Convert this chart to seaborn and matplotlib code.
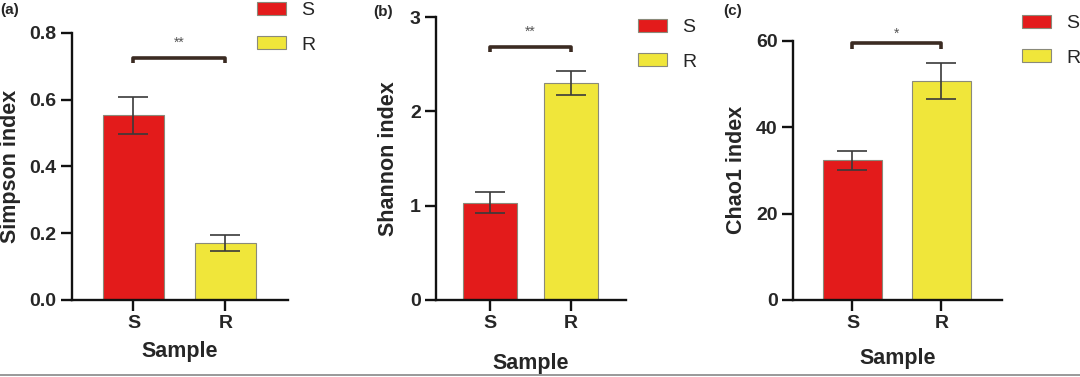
import matplotlib
matplotlib.use("Agg")
import matplotlib.pyplot as plt
import seaborn as sns
import pandas as pd
from matplotlib.lines import Line2D

sns.set_style("ticks")
plt.rcParams['font.family'] = ['Liberation Sans', 'DejaVu Sans']

# ---- data ----
samples = ["S", "R"]
simpson_mean = [0.553, 0.172]
simpson_err = [0.056, 0.024]
shannon_mean = [1.03, 2.30]
shannon_err = [0.11, 0.13]
chao1_mean = [32.3, 50.7]
chao1_err = [2.2, 4.2]
ylabels = ["Simpson index", "Shannon index", "Chao1 index"]
panel_labels = ["(a)", "(b)", "(c)"]
sig_labels = ["**", "**", "*"]
ymaxes = [0.8, 3, 60]
yticks = [[0.0, 0.2, 0.4, 0.6, 0.8], [0, 1, 2, 3], [0, 20, 40, 60]]
ytickfmt = ["{:.1f}", "{:.0f}", "{:.0f}"]
bracket_y = [0.726, 2.686, 59.4]
bracket_drop = [0.015, 0.06, 1.25]
star_y = [0.772, 2.84, 61.6]

palette = {"S": "#E31B1B", "R": "#F0E63A"}

means = [simpson_mean, shannon_mean, chao1_mean]
errs = [simpson_err, shannon_err, chao1_err]

fig = plt.figure(figsize=(10.8, 3.77), dpi=100)

W, H = 1080, 377
rects = [
    (72, 288, 33, 300),
    (436, 626, 17, 300),
    (793, 1002, 40.7, 300),
]
legend_pos = [(253, -2), (634, 15), (1018, 11)]
panel_pos = [(0, 10), (373, 12), (723, 11)]
ylabel_x = [21, 399, 747]
xlabel_pads = [6.5, 15, 11]

for i in range(3):
    l, r, t, b = rects[i]
    ax = fig.add_axes([l / W, 1 - b / H, (r - l) / W, (b - t) / H])
    df = pd.DataFrame({"Sample": samples, "value": means[i]})
    sns.barplot(data=df, x="Sample", y="value", hue="Sample", palette=palette,
                saturation=1, width=0.665, dodge=False, errorbar=None, ax=ax,
                edgecolor="#8a8a7a", linewidth=0.8, legend=True)
    ax.errorbar(x=[0, 1], y=means[i], yerr=errs[i], fmt="none",
                ecolor="#3a3a3a", elinewidth=1.2, capsize=10.5, capthick=1.2,
                zorder=5)
    ax.set_xlim(-0.668, 1.68)
    ax.set_ylim(0, ymaxes[i])
    ax.set_yticks(yticks[i])
    ax.set_yticklabels([ytickfmt[i].format(v) for v in yticks[i]])
    for s in ["top", "right"]:
        ax.spines[s].set_visible(False)
    for s in ["left", "bottom"]:
        ax.spines[s].set_linewidth(1.7)
        ax.spines[s].set_color("#111111")
    ax.tick_params(axis="both", length=8, width=1.7, color="#111111",
                   labelsize=14, pad=3)
    for lab in ax.get_xticklabels() + ax.get_yticklabels():
        lab.set_fontweight("bold")
    ax.set_xlabel("Sample", fontsize=15.5, fontweight="bold", labelpad=xlabel_pads[i])
    ax.set_ylabel(ylabels[i], fontsize=15.5, fontweight="bold")
    ax.yaxis.set_label_coords((ylabel_x[i] - l) / (r - l), 0.5)

    # significance bracket
    by = bracket_y[i]
    dr = bracket_drop[i]
    ax.plot([0, 0, 1, 1], [by - dr, by, by, by - dr], color="#3b2b22",
            lw=2.6, solid_capstyle="butt", clip_on=False, zorder=6)
    ax.text(0.5, star_y[i], sig_labels[i], ha="center", va="center",
            fontsize=10, color="#555555", clip_on=False)

    # legend
    lx, ly = legend_pos[i]
    sns.move_legend(ax, loc="upper left",
                    bbox_to_anchor=(lx / W, 1 - ly / H),
                    bbox_transform=fig.transFigure, frameon=False,
                    title=None, fontsize=14, handlelength=1.5,
                    handleheight=0.68, handletextpad=0.8, labelspacing=0.86,
                    borderaxespad=0, borderpad=0.2)

    px, py = panel_pos[i]
    fig.text(px / W, 1 - py / H, panel_labels[i], fontsize=11,
             fontweight="bold", ha="left", va="center")

fig.add_artist(Line2D([0, 1], [0.006, 0.006], transform=fig.transFigure,
                      color="#888888", lw=1.2))

fig.savefig("out.png", dpi=100)
